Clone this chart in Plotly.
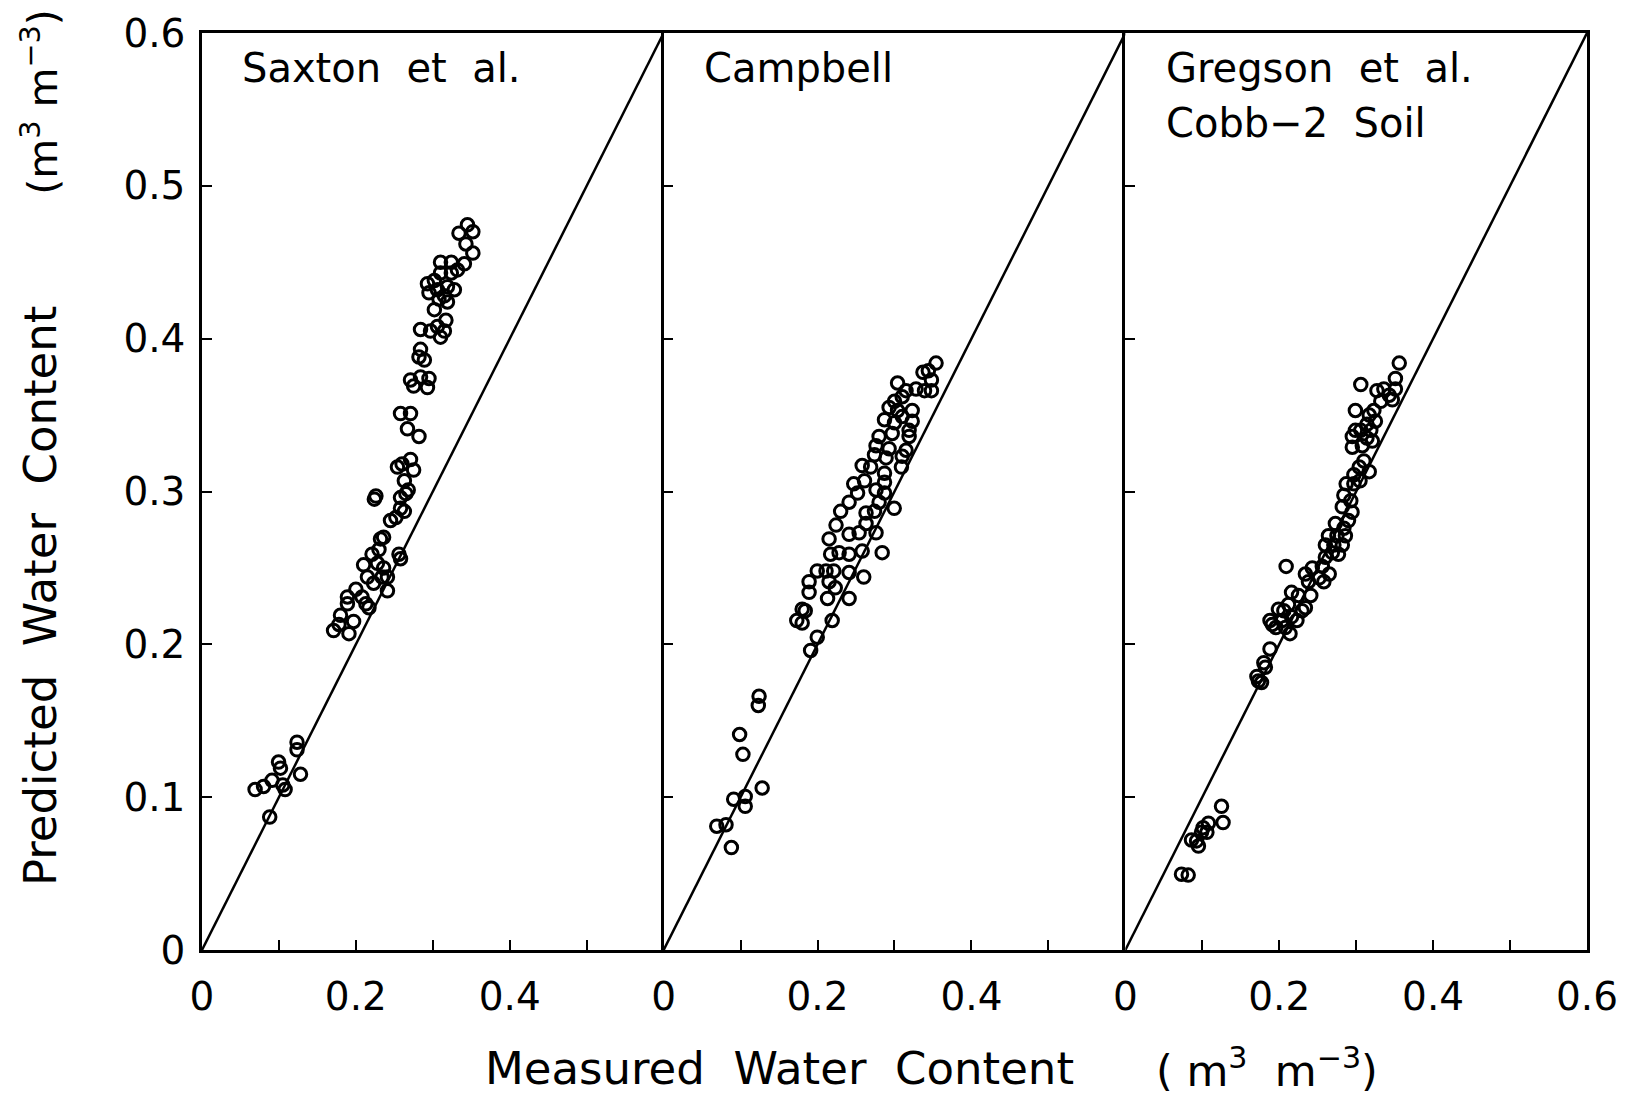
import plotly.graph_objects as go

# ---------------- data ----------------
saxton_x = [0.069, 0.080, 0.091, 0.0995, 0.102, 0.108, 0.105, 0.088, 0.1235, 0.1235, 0.128,
            0.171, 0.178, 0.191, 0.197, 0.180, 0.189, 0.189, 0.200, 0.208, 0.213, 0.217, 0.210, 0.215,
            0.221, 0.230, 0.232, 0.236, 0.228, 0.236, 0.241, 0.234, 0.241, 0.223, 0.256, 0.258, 0.245,
            0.252, 0.258, 0.263, 0.265, 0.258, 0.268, 0.263, 0.254, 0.260, 0.271, 0.275, 0.224, 0.226,
            0.258, 0.271, 0.267, 0.282, 0.271, 0.284, 0.295, 0.293, 0.275, 0.282, 0.289, 0.284, 0.284,
            0.297, 0.306, 0.310, 0.315, 0.295, 0.293, 0.302, 0.306, 0.319, 0.328, 0.315, 0.308, 0.324,
            0.310, 0.324, 0.341, 0.332, 0.352, 0.343, 0.334, 0.345, 0.352, 0.310, 0.302, 0.319, 0.317]
saxton_y = [0.105, 0.107, 0.111, 0.123, 0.119, 0.105, 0.108, 0.087, 0.136, 0.131, 0.115,
            0.209, 0.213, 0.207, 0.215, 0.219, 0.2265, 0.231, 0.236, 0.231, 0.2265, 0.224, 0.252, 0.244,
            0.259, 0.262, 0.269, 0.270, 0.253, 0.250, 0.235, 0.244, 0.244, 0.240, 0.259, 0.256, 0.281,
            0.283, 0.289, 0.287, 0.2986, 0.296, 0.301, 0.307, 0.316, 0.318, 0.321, 0.314, 0.295, 0.297,
            0.351, 0.351, 0.341, 0.336, 0.373, 0.375, 0.374, 0.368, 0.369, 0.388, 0.386, 0.393, 0.406,
            0.405, 0.408, 0.401, 0.405, 0.430, 0.436, 0.438, 0.432, 0.434, 0.432, 0.428, 0.426, 0.443,
            0.450, 0.450, 0.449, 0.445, 0.456, 0.462, 0.469, 0.4745, 0.470, 0.443, 0.419, 0.424, 0.412]

campbell_x = [0.354, 0.344, 0.337, 0.348, 0.348, 0.339, 0.328, 0.304, 0.315, 0.310, 0.300, 0.293,
              0.304, 0.323, 0.310, 0.287, 0.300, 0.323, 0.319, 0.280, 0.297, 0.319, 0.276, 0.293,
              0.274, 0.315, 0.289, 0.310, 0.258, 0.269, 0.309, 0.287, 0.247, 0.261, 0.287, 0.2996,
              0.287, 0.276, 0.252, 0.241, 0.230, 0.280, 0.274, 0.263, 0.224, 0.241, 0.215, 0.254,
              0.276, 0.263,
              0.217, 0.228, 0.241, 0.258, 0.284, 0.1996, 0.211, 0.221, 0.241, 0.189, 0.215, 0.223,
              0.189, 0.260, 0.213, 0.241, 0.180, 0.184, 0.173, 0.180, 0.219, 0.1996, 0.191, 0.124,
              0.123, 0.0987, 0.103, 0.128, 0.091, 0.106, 0.106, 0.069, 0.081, 0.088]
campbell_y = [0.384, 0.379, 0.378, 0.373, 0.366, 0.366, 0.367, 0.371, 0.366, 0.362, 0.359, 0.355,
              0.353, 0.353, 0.349, 0.347, 0.345, 0.346, 0.340, 0.336, 0.338, 0.336, 0.330, 0.328,
              0.324, 0.327, 0.322, 0.323, 0.317, 0.316, 0.316, 0.312, 0.305, 0.307, 0.306, 0.289,
              0.299, 0.301, 0.299, 0.293, 0.287, 0.293, 0.287, 0.286, 0.278, 0.272, 0.269, 0.273,
              0.273, 0.279,
              0.259, 0.260, 0.259, 0.261, 0.260, 0.248, 0.248, 0.248, 0.247, 0.241, 0.241, 0.237,
              0.234, 0.244, 0.230, 0.230, 0.223, 0.222, 0.2156, 0.214, 0.2156, 0.2047, 0.196, 0.166,
              0.160, 0.141, 0.128, 0.106, 0.0987, 0.1005, 0.094, 0.081, 0.082, 0.067]

gregson_x = [0.073, 0.0817, 0.125, 0.127, 0.108, 0.101, 0.0926, 0.086, 0.095, 0.106, 0.099,
             0.173, 0.177, 0.171, 0.182, 0.180, 0.188, 0.191, 0.188, 0.1957, 0.204, 0.199, 0.206,
             0.214, 0.208, 0.223, 0.216, 0.2296, 0.212, 0.216, 0.225, 0.234, 0.241, 0.238, 0.234,
             0.243, 0.252, 0.258, 0.265, 0.256, 0.260, 0.269, 0.277, 0.209,
             0.356, 0.351, 0.351, 0.306, 0.327, 0.336, 0.343, 0.332, 0.347, 0.299, 0.317, 0.323,
             0.325, 0.314, 0.306, 0.295, 0.299, 0.319, 0.321, 0.295, 0.308, 0.314, 0.310, 0.304,
             0.317, 0.297, 0.287, 0.297, 0.305, 0.284, 0.293, 0.282, 0.2946, 0.290, 0.273, 0.284,
             0.264, 0.275, 0.286, 0.260, 0.271, 0.282]
gregson_y = [0.0496, 0.049, 0.094, 0.0834, 0.083, 0.080, 0.0714, 0.072, 0.068, 0.077, 0.077,
             0.176, 0.175, 0.179, 0.185, 0.188, 0.197, 0.213, 0.2156, 0.211, 0.2156, 0.223, 0.222,
             0.207, 0.211, 0.2156, 0.218, 0.222, 0.226, 0.234, 0.232, 0.224, 0.232, 0.241, 0.246,
             0.250, 0.2435, 0.241, 0.246, 0.251, 0.257, 0.260, 0.259, 0.251,
             0.384, 0.374, 0.367, 0.370, 0.366, 0.367, 0.363, 0.359, 0.360, 0.353, 0.350, 0.353,
             0.346, 0.344, 0.340, 0.336, 0.340, 0.340, 0.333, 0.329, 0.330, 0.335, 0.320, 0.316,
             0.313, 0.311, 0.305, 0.305, 0.307, 0.2975, 0.294, 0.290, 0.2865, 0.281, 0.279, 0.276,
             0.271, 0.271, 0.271, 0.265, 0.265, 0.265]

one_to_one = [0.0, 0.6]
panel_titles = [["Saxton\u00a0\u00a0et\u00a0\u00a0al."], ["Campbell"],
                ["Gregson\u00a0\u00a0et\u00a0\u00a0al.", "Cobb\u22122\u00a0\u00a0Soil"]]
y_tick_vals = [0, 0.1, 0.2, 0.3, 0.4, 0.5, 0.6]
y_tick_text = ["0", "0.1", "0.2", "0.3", "0.4", "0.5", "0.6"]
x_major_a = [0, 0.2, 0.4]
x_text_a = ["0", "0.2", "0.4"]
x_major_b = [0, 0.2, 0.4, 0.6]
x_text_b = ["0", "0.2", "0.4", "0.6"]
x_minor = [0.1, 0.3, 0.5]

# ---------------- figure ----------------
FONT = "DejaVu Sans"
fig = go.Figure()
series = [(saxton_x, saxton_y), (campbell_x, campbell_y), (gregson_x, gregson_y)]
for i, (sx, sy) in enumerate(series):
    xa = "x" if i == 0 else f"x{i+1}"
    ya = "y" if i == 0 else f"y{i+1}"
    fig.add_trace(go.Scatter(x=one_to_one, y=one_to_one, mode="lines",
                             line=dict(color="black", width=2.5),
                             xaxis=xa, yaxis=ya, showlegend=False, hoverinfo="skip"))
    fig.add_trace(go.Scatter(x=sx, y=sy, mode="markers",
                             marker=dict(symbol="circle-open", size=12.5, color="black",
                                         line=dict(width=3, color="black")),
                             xaxis=xa, yaxis=ya, showlegend=False))

axis_common = dict(range=[0, 0.6], showline=True, linecolor="black", linewidth=2.5,
                   ticks="inside", ticklen=10, tickwidth=2, tickcolor="black",
                   showgrid=False, zeroline=False,
                   tickfont=dict(family=FONT, size=39, color="black"))

layout = dict(width=1639, height=1099, margin=dict(l=202, r=52, t=33, b=149),
              paper_bgcolor="white", plot_bgcolor="white",
              font=dict(family=FONT, color="black"))
domains = [[0, 1/3], [1/3, 2/3], [2/3, 1]]
for i in range(3):
    xk = "xaxis" if i == 0 else f"xaxis{i+1}"
    yk = "yaxis" if i == 0 else f"yaxis{i+1}"
    ya = "y" if i == 0 else f"y{i+1}"
    xa = "x" if i == 0 else f"x{i+1}"
    layout[xk] = dict(axis_common, domain=domains[i], anchor=ya, mirror=True,
                      tickvals=(x_major_b if i == 2 else x_major_a),
                      ticktext=(x_text_b if i == 2 else x_text_a),
                      minor=dict(tickvals=x_minor, ticks="inside", ticklen=10,
                                 tickwidth=2, tickcolor="black", showgrid=False),
                      ticklabelstandoff=10)
    ydict = dict(axis_common, domain=[0, 1], anchor=xa, mirror=(i == 2),
                 tickvals=y_tick_vals, showticklabels=(i == 0))
    if i == 0:
        ydict.update(ticktext=y_tick_text, ticklabelstandoff=6)
    layout[yk] = ydict
fig.update_layout(**layout)

annotations = []
for i, lines in enumerate(panel_titles):
    xa = "x" if i == 0 else f"x{i+1}"
    ya = "y" if i == 0 else f"y{i+1}"
    for j, txt in enumerate(lines):
        annotations.append(dict(x=0.05, y=0.577 - j * 0.036, xref=xa, yref=ya, text=txt,
                                showarrow=False, xanchor="left", yanchor="middle",
                                font=dict(family=FONT, size=40, color="black")))

title_font = dict(family=FONT, size=45, color="black")
annotations += [
    dict(x=-0.117, y=0.386, xref="paper", yref="paper", textangle=-90, showarrow=False,
         text="Predicted\u00a0\u00a0Water\u00a0\u00a0Content", font=title_font,
         xanchor="center", yanchor="middle"),
    dict(x=-0.117, y=0.925, xref="paper", yref="paper", textangle=-90, showarrow=False,
         text="(m<sup>3</sup>\u00a0m<sup>\u22123</sup>)", font=dict(family=FONT, size=41, color="black"),
         xanchor="center", yanchor="middle"),
    dict(x=0.417, y=-0.129, xref="paper", yref="paper", showarrow=False,
         text="Measured\u00a0\u00a0Water\u00a0\u00a0Content", font=title_font,
         xanchor="center", yanchor="middle"),
    dict(x=0.769, y=-0.129, xref="paper", yref="paper", showarrow=False,
         text="(\u00a0m<sup>3</sup>\u00a0\u00a0m<sup>\u22123</sup>)", font=dict(family=FONT, size=43, color="black"),
         xanchor="center", yanchor="middle"),
]
fig.update_layout(annotations=annotations)

fig.write_html("out.html")
